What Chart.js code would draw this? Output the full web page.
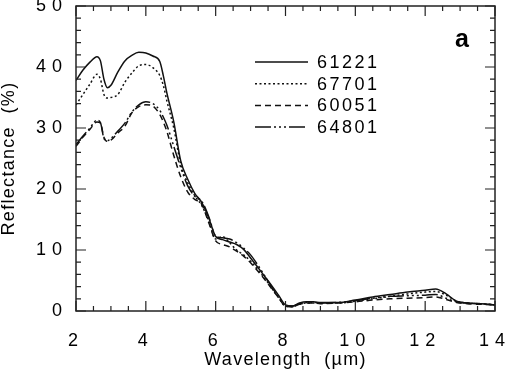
<!DOCTYPE html>
<html>
<head>
<meta charset="utf-8">
<script src="https://cdn.jsdelivr.net/npm/chart.js@4/dist/chart.umd.min.js"></script>
<style>
  html, body { margin: 0; padding: 0; background: #fff; }
  #wrap { width: 510px; height: 377px; position: relative; }
</style>
</head>
<body>
<div id="wrap"><canvas id="c" width="510" height="377"></canvas></div>
<script>
const wavelengths = [2.0, 2.2, 2.4, 2.6, 2.7, 2.8, 2.9, 3.0, 3.2, 3.4, 3.6, 3.8, 4.0, 4.2, 4.4, 4.5, 4.6, 4.8, 5.0, 5.2, 5.4, 5.6, 5.8, 6.0, 6.2, 6.4, 6.6, 6.8, 7.0, 7.2, 7.4, 7.6, 7.8, 8.0, 8.2, 8.4, 8.6, 8.8, 9.0, 9.5, 10.0, 10.5, 11.0, 11.5, 12.0, 12.3, 12.6, 12.9, 13.2, 13.6, 14.0];

const s61221 = [37.8, 39.5, 40.8, 41.7, 41.0, 38.0, 36.6, 37.0, 39.2, 41.0, 41.9, 42.4, 42.3, 41.8, 40.9, 38.6, 35.8, 31.0, 24.6, 21.6, 19.3, 17.8, 15.3, 12.2, 11.7, 11.3, 10.9, 10.1, 8.7, 7.2, 5.7, 4.2, 2.6, 1.0, 0.8, 1.3, 1.5, 1.5, 1.4, 1.4, 1.8, 2.3, 2.7, 3.1, 3.4, 3.6, 2.8, 1.6, 1.3, 1.2, 1.0];
const s67701 = [33.8, 35.5, 37.2, 38.8, 38.0, 35.5, 34.9, 35.0, 35.5, 37.5, 39.0, 40.2, 40.4, 39.9, 38.6, 37.0, 34.5, 30.0, 24.0, 21.0, 18.9, 17.3, 14.8, 11.8, 12.2, 11.2, 10.0, 9.2, 8.2, 6.8, 5.4, 3.8, 2.2, 0.8, 0.7, 1.1, 1.3, 1.3, 1.3, 1.3, 1.6, 2.0, 2.4, 2.8, 3.1, 3.2, 2.6, 1.6, 1.3, 1.2, 1.0];
const s60051 = [27.0, 28.5, 29.8, 31.0, 30.8, 28.5, 27.8, 28.0, 29.2, 30.3, 32.5, 33.5, 33.8, 33.6, 32.2, 31.0, 29.5, 25.5, 22.0, 19.5, 18.3, 17.5, 14.5, 11.5, 10.9, 10.5, 9.8, 9.0, 7.9, 6.6, 5.2, 3.7, 2.2, 0.8, 0.7, 1.1, 1.3, 1.3, 1.2, 1.3, 1.5, 1.8, 2.0, 2.1, 2.2, 2.3, 1.9, 1.4, 1.2, 1.1, 1.0];
const s64801 = [27.3, 28.7, 30.0, 31.3, 30.9, 28.3, 27.9, 28.3, 29.5, 30.8, 32.6, 33.8, 34.3, 34.0, 32.9, 31.8, 30.5, 27.0, 23.5, 20.5, 18.8, 18.0, 15.5, 12.3, 12.0, 11.8, 11.2, 10.3, 9.2, 7.6, 5.8, 4.0, 2.3, 0.9, 0.8, 1.2, 1.4, 1.4, 1.3, 1.4, 1.7, 2.1, 2.4, 2.5, 2.6, 2.7, 2.1, 1.5, 1.3, 1.2, 1.0];

const seriesLabels = ['61221', '67701', '60051', '64801'];
const seriesValues = [s61221, s67701, s60051, s64801];
const seriesDashes = [[], [2, 2.5], [6, 4], [16, 3, 2, 3, 2, 3, 2, 3]];

const xTickMin = 2, xTickMax = 14, xMajorStep = 2, xMinorStep = 0.5;
const yTickMin = 0, yTickMax = 50, yMajorStep = 10, yMinorStep = 2;
const xTitle = 'Wavelength  (\u00b5m)';
const yTitle = 'Reflectance  (%)';
const panelLabel = 'a';

const FONT = "'Liberation Sans', Arial, Helvetica, sans-serif";
const INK = '#000';

const datasets = seriesLabels.map((lab, k) => ({
  label: lab,
  data: wavelengths.map((w, i) => ({ x: w, y: seriesValues[k][i] })),
  borderColor: '#111',
  borderWidth: 1.5,
  borderDash: seriesDashes[k],
  pointRadius: 0,
  fill: false,
  tension: 0,
  cubicInterpolationMode: 'monotone'
}));

const spacingPlugin = {
  id: 'spacing',
  beforeDraw(chart) { chart.ctx.letterSpacing = '1.3px'; },
  beforeDatasetsDraw(chart) { chart.ctx.letterSpacing = '0px'; },
  afterDatasetsDraw(chart) { chart.ctx.letterSpacing = '6px'; },
  afterDraw(chart) {
    const ctx = chart.ctx;
    const ca = chart.chartArea;
    const xs = chart.scales.x, ys = chart.scales.y;
    ctx.save();
    ctx.letterSpacing = '0px';
    ctx.strokeStyle = '#222';
    ctx.lineWidth = 1.5;
    ctx.strokeRect(ca.left, ca.top, ca.right - ca.left, ca.bottom - ca.top);
    ctx.lineWidth = 1.2;
    ctx.beginPath();
    for (let v = xTickMin; v <= xTickMax + 1e-9; v += xMinorStep) {
      const px = xs.getPixelForValue(v);
      const major = Math.abs(v / xMajorStep - Math.round(v / xMajorStep)) < 1e-6;
      const L = major ? 10 : 5;
      ctx.moveTo(px, ca.bottom); ctx.lineTo(px, ca.bottom - L);
      ctx.moveTo(px, ca.top); ctx.lineTo(px, ca.top + L);
    }
    for (let v = yTickMin; v <= yTickMax + 1e-9; v += yMinorStep) {
      const py = ys.getPixelForValue(v);
      const major = Math.abs(v / yMajorStep - Math.round(v / yMajorStep)) < 1e-6;
      const L = major ? 10 : 5;
      ctx.moveTo(ca.left, py); ctx.lineTo(ca.left + L, py);
      ctx.moveTo(ca.right, py); ctx.lineTo(ca.right - L, py);
    }
    ctx.stroke();
    const lx0 = ca.left + 179, lx1 = ca.left + 232, tx = ca.left + 241;
    const ly0 = ca.top + 56, dy = 21.7;
    ctx.font = '18px ' + FONT;
    ctx.textBaseline = 'middle';
    ctx.textAlign = 'left';
    ctx.fillStyle = INK;
    chart.data.datasets.forEach((ds, i) => {
      const y = ly0 + i * dy;
      ctx.save();
      ctx.strokeStyle = '#111';
      ctx.lineWidth = 1.5;
      ctx.setLineDash(ds.borderDash || []);
      ctx.beginPath();
      ctx.moveTo(lx0, y); ctx.lineTo(lx1, y);
      ctx.stroke();
      ctx.restore();
      ctx.letterSpacing = '2.5px';
      ctx.fillText(ds.label, tx, y + 1);
      ctx.letterSpacing = '0px';
    });
    ctx.font = 'bold 25px ' + FONT;
    ctx.textBaseline = 'alphabetic';
    ctx.fillText(panelLabel, ca.right - 40, ca.top + 41);
    ctx.restore();
    ctx.letterSpacing = '0px';
  }
};

new Chart(document.getElementById('c'), {
  type: 'line',
  data: { datasets },
  options: {
    responsive: false,
    animation: false,
    events: [],
    layout: { padding: { top: 6, right: 15, left: 0, bottom: 0 } },
    plugins: { legend: { display: false }, tooltip: { enabled: false } },
    scales: {
      x: {
        type: 'linear',
        min: xTickMin, max: xTickMax,
        grid: { display: false, drawTicks: false },
        border: { display: false },
        ticks: { stepSize: xMajorStep, padding: 19, color: INK, z: 1,
                 font: { family: FONT, size: 18 }, maxRotation: 0, autoSkip: false },
        title: { display: true, text: xTitle, color: INK,
                 font: { family: FONT, size: 18, lineHeight: 1 }, padding: { top: 0, bottom: 8 } },
        afterFit(s) { s.height = 66; s.paddingLeft = 0; s.paddingRight = 0; }
      },
      y: {
        min: yTickMin, max: yTickMax,
        grid: { display: false, drawTicks: false },
        border: { display: false },
        ticks: { stepSize: yMajorStep, padding: 8, color: INK, z: 1,
                 font: { family: FONT, size: 18 } },
        title: { display: true, text: yTitle, color: INK,
                 font: { family: FONT, size: 18, lineHeight: 1 }, padding: { top: 0, bottom: 0 } },
        afterFit(s) { s.width = 76; s.paddingTop = 0; s.paddingBottom = 0; }
      }
    }
  },
  plugins: [spacingPlugin]
});
</script>
</body>
</html>
